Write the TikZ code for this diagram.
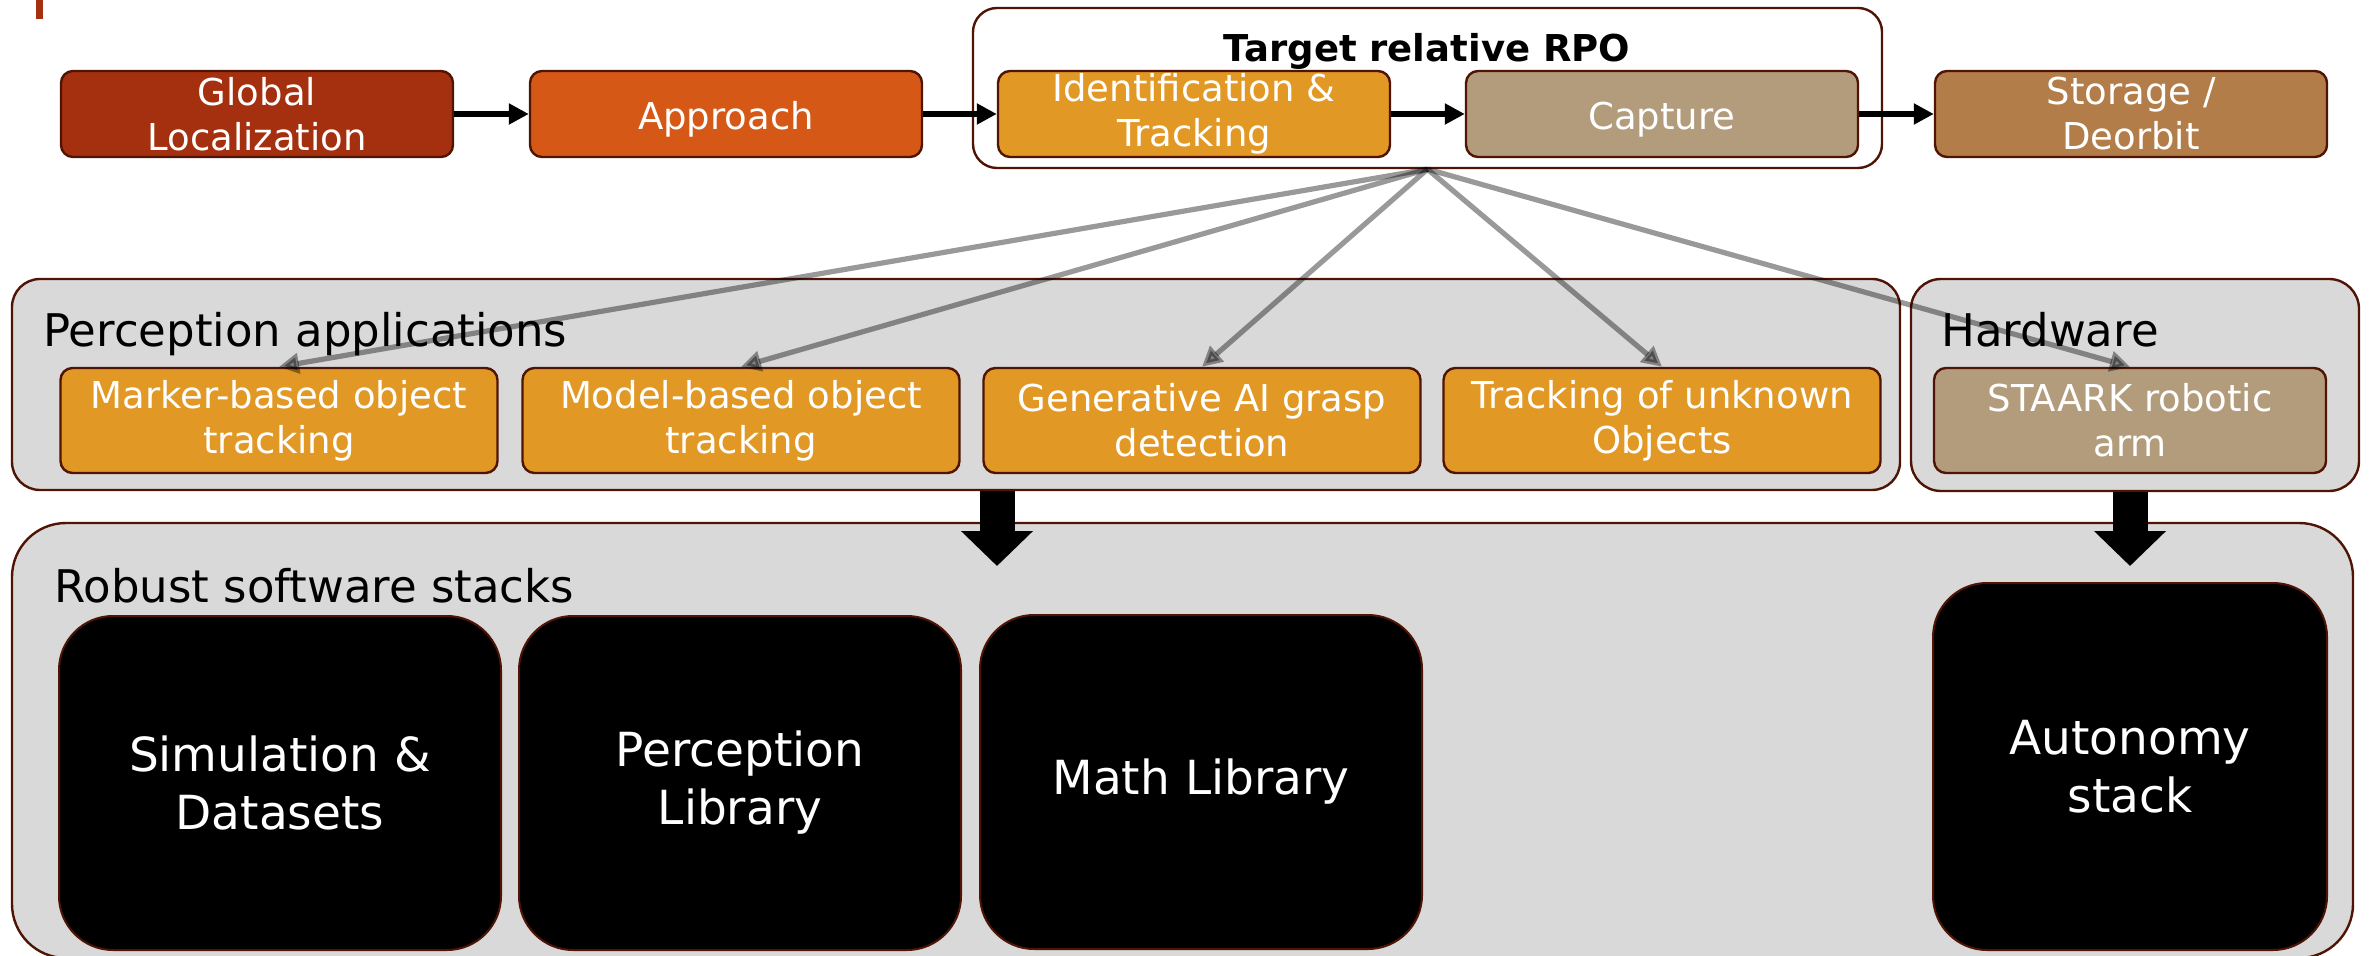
\documentclass[tikz,border=0pt]{standalone}
\usepackage{fontspec}
\setmainfont{DejaVu Sans}
\usetikzlibrary{arrows.meta}

\definecolor{globred}{RGB}{165,48,15}
\definecolor{apporange}{RGB}{213,88,22}
\definecolor{trackorange}{RGB}{225,152,37}
\definecolor{capttan}{RGB}{178,156,124}
\definecolor{storbrown}{RGB}{178,125,73}
\definecolor{panelgray}{RGB}{217,217,217}
\definecolor{edgebrown}{RGB}{80,20,5}

\begin{document}
\begin{tikzpicture}[x=0.5pt,y=-0.5pt,
    stage/.style={draw=edgebrown,line width=1.2pt,rounded corners=6pt,text=white,align=center,
      minimum width=196pt,minimum height=43pt,inner sep=0pt,font=\fontsize{18.5}{22.5}\selectfont,
      execute at begin node={\rule{0pt}{19pt}}},
    app/.style={stage,fill=trackorange,minimum width=218.5pt,minimum height=52.5pt},
    panel/.style={draw=edgebrown,line width=1.2pt,fill=panelgray,inner sep=0pt},
    paneltitle/.style={anchor=base west,inner sep=0pt,font=\fontsize{22.5}{27}\selectfont},
    lib/.style={draw=edgebrown,line width=1pt,fill=black,text=white,align=center,rounded corners=27pt,
      minimum width=221pt,minimum height=167pt,inner sep=0pt,font=\fontsize{23.5}{29}\selectfont},
    flow/.style={line width=3pt,-{Triangle[length=10pt,width=10pt]}},
    pick/.style={line width=2.6pt,opacity=0.4,-{Triangle[length=10pt,width=10pt]}},
    bigarrow/.style={line width=17.5pt,-{Triangle[length=17.5pt,width=35pt]}}]

    \useasboundingbox (0,0) rectangle (2369,956);
    \fill[globred] (36,0) rectangle (43,19);

    \node[draw=edgebrown,line width=1.2pt,fill=white,rounded corners=12pt,
      minimum width=454.5pt,minimum height=80pt,inner sep=0pt] at (1427.5,88) (rpo) {};
    \node[anchor=base,font=\bfseries\fontsize{18.5}{22.5}\selectfont] at (1427,62) (rpotitle) {Target relative RPO};

    \node[stage,fill=globred] at (257,114) (glob) {Global\\Localization};
    \node[stage,fill=apporange] at (726,114) (appr) {Approach};
    \node[stage,fill=trackorange] at (1194,114) (ident) {Identification \&\\Tracking};
    \node[stage,fill=capttan] at (1662,114) (capt) {Capture};
    \node[stage,fill=storbrown] at (2131,114) (stor) {Storage /\\Deorbit};
    \draw[flow] (glob) -- (appr);
    \draw[flow] (appr) -- (ident);
    \draw[flow] (ident) -- (capt);
    \draw[flow] (capt) -- (stor);

    \node[panel,rounded corners=14pt,minimum width=944pt,minimum height=105.5pt] at (956,384.5) (percpanel) {};
    \node[panel,rounded corners=15pt,minimum width=224pt,minimum height=106pt] at (2135,385) (hwpanel) {};
    \node[paneltitle] at (43,347) (perctitle) {Perception applications};
    \node[paneltitle] at (1941,347) (hwtitle) {Hardware};

    \node[app] at (279,420.5) (marker) {Marker-based object\\tracking};
    \node[app] at (741,420.5) (model) {Model-based object\\tracking};
    \node[app] at (1202,420.5) (genai) {Generative AI grasp\\detection};
    \node[app] at (1662,420.5) (unknown) {Tracking of unknown\\Objects};
    \node[app,fill=capttan,minimum width=196pt] at (2130,420.5) (staark) {STAARK robotic\\arm};

    \foreach \t in {marker,model,genai,unknown,staark}
        \draw[pick] (rpo.south) -- (\t.north);

    \node[panel,rounded corners=27pt,minimum width=1170.5pt,minimum height=217.5pt] at (1182.5,740.5) (swpanel) {};
    \node[paneltitle] at (54,602) (swtitle) {Robust software stacks};

    \node[lib] at (280,783) (sim) {Simulation \&\\Datasets};
    \node[lib] at (740,783) (perclib) {Perception\\Library};
    \node[lib] at (1201,782) (mathlib) {Math Library};
    \node[lib,minimum width=197pt,minimum height=183.5pt] at (2130,766.5) (auto) {Autonomy\\stack};

    \coordinate (swin) at (997,566);
    \coordinate (hwout) at (2130,566);
    \draw[bigarrow] (percpanel.south -| swin) -- (swin);
    \draw[bigarrow] (hwpanel.south -| hwout) -- (hwout);
\end{tikzpicture}
\end{document}
